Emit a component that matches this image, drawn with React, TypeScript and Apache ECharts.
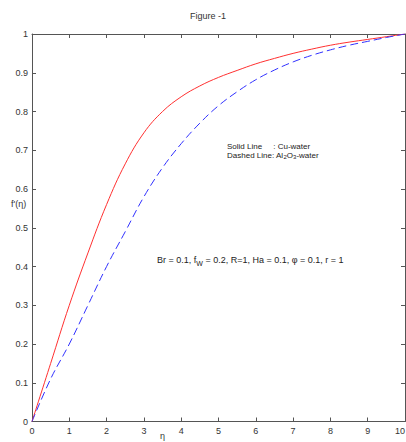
import React, { useEffect, useRef } from "react";
import * as echarts from "echarts";

const etaValues = [0, 0.5, 1, 1.5, 2, 2.5, 3, 3.5, 4, 4.5, 5, 5.5, 6, 6.5, 7, 7.5, 8, 8.5, 9, 9.5, 10];
const cuWater = [0, 0.15, 0.3, 0.435, 0.56, 0.665, 0.745, 0.8, 0.838, 0.866, 0.888, 0.906, 0.923, 0.937, 0.95, 0.961, 0.971, 0.979, 0.986, 0.993, 1];
const al2o3Water = [0, 0.11, 0.2, 0.3, 0.4, 0.49, 0.58, 0.655, 0.717, 0.77, 0.815, 0.851, 0.882, 0.907, 0.928, 0.945, 0.959, 0.971, 0.981, 0.991, 1];
const xTicks = [0, 1, 2, 3, 4, 5, 6, 7, 8, 9, 10];
const yTicks = [0, 0.1, 0.2, 0.3, 0.4, 0.5, 0.6, 0.7, 0.8, 0.9, 1];

const FONT = "'Liberation Sans Narrow', 'Liberation Sans', Arial, sans-serif";

export default function App() {
  const ref = useRef<HTMLDivElement>(null);
  useEffect(() => {
    if (!ref.current) return;
    const chart = echarts.init(ref.current, undefined, { renderer: "svg" });
    const axisColor = "#555";
    const fmtX = (v: number) => (xTicks.includes(v) ? String(v) : "");
    const fmtY = (v: number) => {
      const r = Math.round(v * 10) / 10;
      return yTicks.includes(r) ? String(r) : "";
    };
    const line = { show: true, onZero: false, lineStyle: { color: axisColor, width: 1 } };
    const tick = { show: true, inside: true, length: 4, lineStyle: { color: axisColor } };
    chart.setOption({
      animation: false,
      backgroundColor: "#fff",
      grid: { left: 32, right: 1, top: 34, bottom: 20.5, containLabel: false, outerBoundsMode: "none" },
      xAxis: [
        {
          type: "value", min: 0, max: 10, interval: 1, position: "bottom",
          axisLine: line, axisTick: tick,
          axisLabel: { color: "#333", fontSize: 9, fontFamily: FONT, margin: 5, formatter: fmtX, alignMaxLabel: "right" },
          splitLine: { show: false },
        },
        {
          type: "value", min: 0, max: 10, interval: 1, position: "top",
          axisLine: line, axisTick: tick,
          axisLabel: { show: false },
          splitLine: { show: false },
        },
      ],
      yAxis: [
        {
          type: "value", min: 0, max: 1, interval: 0.1, position: "left",
          axisLine: line, axisTick: tick,
          axisLabel: { color: "#333", fontSize: 9, fontFamily: FONT, margin: 4, formatter: fmtY },
          splitLine: { show: false },
        },
        {
          type: "value", min: 0, max: 1, interval: 0.1, position: "right",
          axisLine: line, axisTick: tick,
          axisLabel: { show: false },
          splitLine: { show: false },
        },
      ],
      series: [
        {
          name: "Cu-water", type: "line", xAxisIndex: 0, yAxisIndex: 0, smooth: 0.4, symbol: "none",
          data: etaValues.map((x, i) => [x, cuWater[i]]),
          lineStyle: { color: "#ff3030", width: 1 },
        },
        {
          name: "Al2O3-water", type: "line", xAxisIndex: 0, yAxisIndex: 0, smooth: 0.4, symbol: "none",
          data: etaValues.map((x, i) => [x, al2o3Water[i]]),
          lineStyle: { color: "#3030ff", width: 1, type: [8, 4] },
        },
      ],
      graphic: [
        { type: "text", left: 190, top: 11, style: { text: "Figure -1", fontSize: 9, fontFamily: FONT, fill: "#333" } },
        { type: "text", left: 11, top: 199, style: { text: "f'(η)", fontSize: 9, fontFamily: FONT, fill: "#333" } },
        { type: "text", left: 160, top: 431, style: { text: "η", fontSize: 9, fontFamily: FONT, fill: "#333" } },
        { type: "text", left: 227, top: 142, style: { text: "Solid Line     : Cu-water", fontSize: 8, fontFamily: FONT, fill: "#222" } },
        {
          type: "text", left: 227, top: 151,
          style: {
            text: "Dashed Line: Al{s|2}O{s|3}-water", fontSize: 8, fontFamily: FONT, fill: "#222",
            rich: { s: { fontSize: 6, fontFamily: FONT, fill: "#222", padding: [4, 0, 0, 0] } },
          },
        },
        {
          type: "text", left: 157, top: 255,
          style: {
            text: "Br = 0.1, f{s|W} = 0.2, R=1, Ha = 0.1, φ = 0.1, r = 1", fontSize: 9, fontFamily: FONT, fill: "#222",
            rich: { s: { fontSize: 7, fontFamily: FONT, fill: "#222", padding: [7, 0, 0, 0] } },
          },
        },
      ],
    });
    return () => chart.dispose();
  }, []);
  return <div ref={ref} style={{ position: "fixed", left: 0, top: 0, width: 406, height: 442 }} />;
}
